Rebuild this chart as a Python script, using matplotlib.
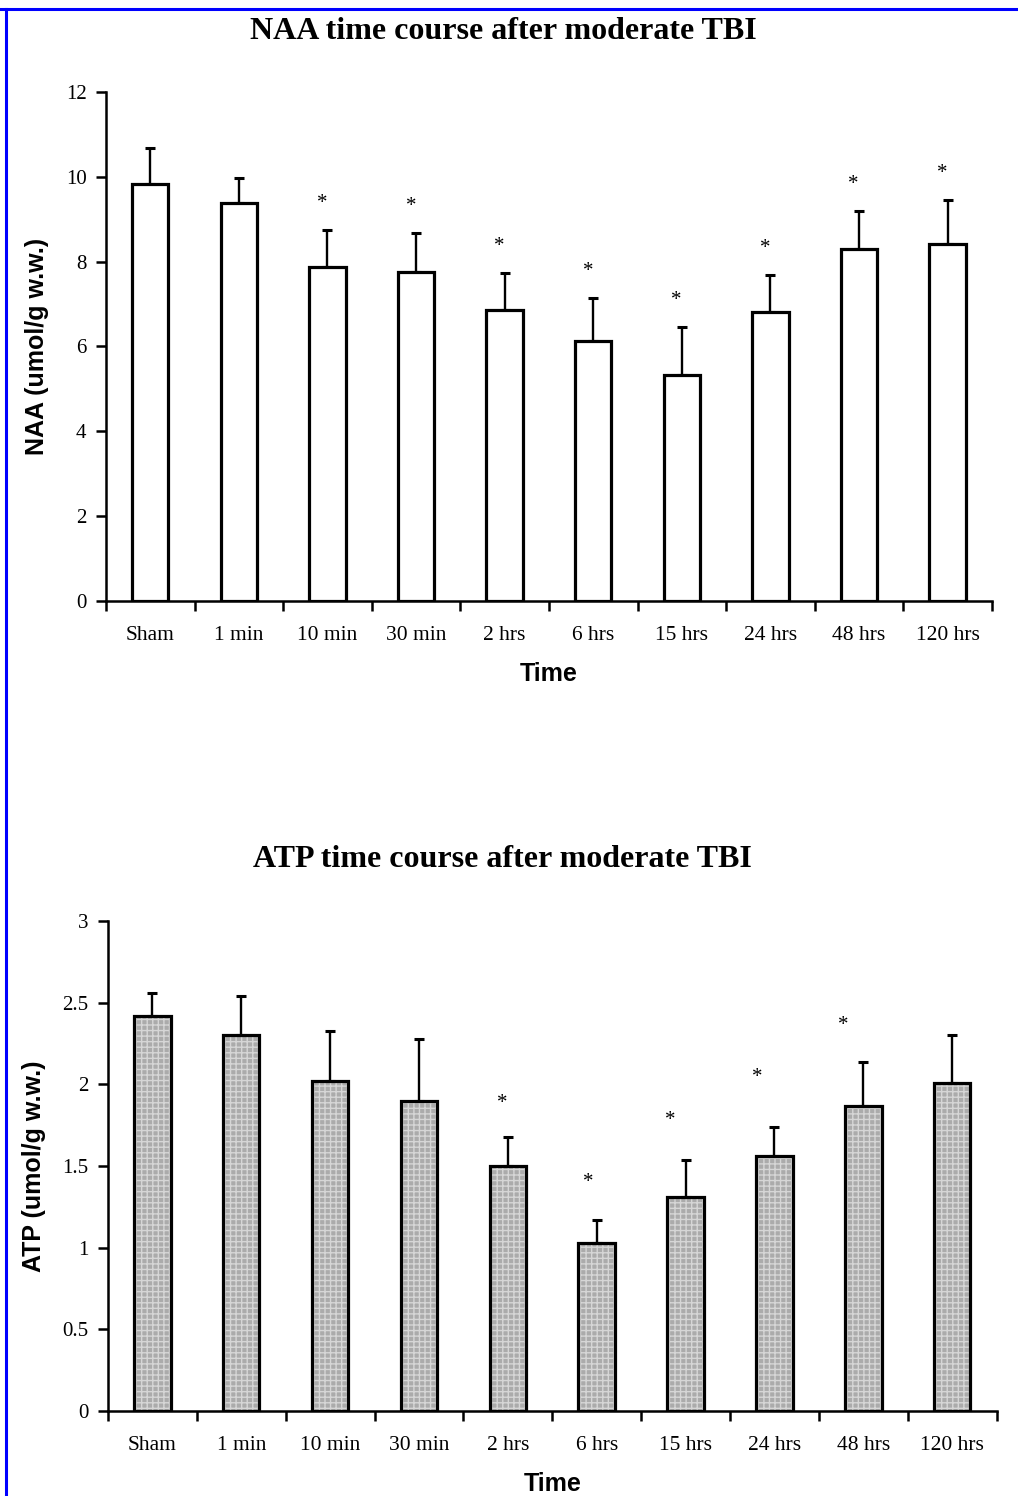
import matplotlib
matplotlib.use("Agg")
import matplotlib.pyplot as plt
from matplotlib.lines import Line2D
from matplotlib.ticker import FixedLocator, FuncFormatter

categories = ["Sham", "1 min", "10 min", "30 min", "2 hrs", "6 hrs",
              "15 hrs", "24 hrs", "48 hrs", "120 hrs"]

naa_mean = [9.83, 9.39, 7.88, 7.76, 6.86, 6.13, 5.33, 6.82, 8.30, 8.42]
naa_err = [0.85, 0.59, 0.87, 0.92, 0.88, 1.02, 1.13, 0.87, 0.90, 1.04]
naa_star = [False, False, True, True, True, True, True, True, True, True]

atp_mean = [2.42, 2.30, 2.02, 1.90, 1.50, 1.03, 1.31, 1.56, 1.87, 2.01]
atp_err = [0.14, 0.24, 0.31, 0.38, 0.18, 0.14, 0.23, 0.18, 0.27, 0.29]
atp_star = [False, False, False, False, True, True, True, True, True, False]
atp_star_y = [None, None, None, None, 1.88, 1.40, 1.78, 2.04, 2.36, None]

fig = plt.figure(figsize=(10.18, 14.96), dpi=100)

serif = "Liberation Serif"
sans = "Liberation Sans"


def panel(ax, means, errs, stars, ymax, ystep, ylabel, gray, star_y=None,
          star_dx=None):
    x = list(range(len(categories)))
    if gray:
        ax.bar(x, means, width=0.41, color="#ababab", edgecolor="#d6d6d6",
               linewidth=0, hatch="+++", zorder=2)
        ax.bar(x, means, width=0.41, fill=False, edgecolor="black",
               linewidth=2.3, zorder=3)
    else:
        ax.bar(x, means, width=0.41, color="white", edgecolor="black",
               linewidth=2.3, zorder=3)
    ax.errorbar(x, means, yerr=[[0] * len(errs), errs], fmt="none",
                ecolor="black", elinewidth=1.7, capsize=3.6, capthick=2.2,
                zorder=2)
    for i, s in enumerate(stars):
        if s:
            if star_y is not None:
                yy = star_y[i]
            else:
                yy = means[i] + errs[i] + 0.62
            dx = star_dx[i] if star_dx is not None else -0.06
            ax.text(i + dx, yy, "*", ha="center", va="center",
                    fontsize=15, fontfamily=serif)
    ax.set_xlim(-0.5, len(categories) - 0.5)
    ax.set_ylim(0, ymax)
    ax.spines["top"].set_visible(False)
    ax.spines["right"].set_visible(False)
    ax.spines["left"].set_linewidth(1.8)
    ax.spines["bottom"].set_linewidth(1.8)
    ax.set_xticks(x)
    ax.set_xticklabels(categories, fontfamily=serif, fontsize=15.5)
    ax.tick_params(axis="x", which="major", length=0, pad=18)
    ax.xaxis.set_minor_locator(FixedLocator([i + 0.5 for i in range(-1, len(categories))]))
    ax.tick_params(axis="x", which="minor", length=7, width=1.8, direction="out")
    yt = []
    v = 0.0
    while v <= ymax + 1e-9:
        yt.append(v)
        v += ystep
    ax.set_yticks(yt)
    ax.yaxis.set_major_formatter(FuncFormatter(lambda val, pos: f"{val:g}"))
    ax.tick_params(axis="y", length=7, width=1.8, direction="out", pad=7)
    for lab in ax.get_yticklabels():
        lab.set_fontfamily(serif)
        lab.set_fontsize(15)
    ax.set_ylabel(ylabel, fontfamily=sans, fontweight="bold", fontsize=18,
                  labelpad=12)
    ax.set_xlabel("Time", fontfamily=sans, fontweight="bold", fontsize=18,
                  labelpad=12)


ax1 = fig.add_axes([0.1041, 0.5983, 0.8703, 0.3402])
panel(ax1, naa_mean, naa_err, naa_star, 12, 2, "NAA (umol/g w.w.)", gray=False)

star_dx = [0, 0, 0, 0, -0.06, -0.09, -0.17, -0.19, -0.23, 0]
ax2 = fig.add_axes([0.106, 0.0568, 0.873, 0.3275])
panel(ax2, atp_mean, atp_err, atp_star, 3, 0.5, "ATP (umol/g w.w.)",
      gray=True, star_y=atp_star_y, star_dx=star_dx)

fig.text(0.494, 0.979, "NAA time course after moderate TBI", ha="center",
         va="center", fontfamily=serif, fontweight="bold", fontsize=23)
fig.text(0.494, 0.4255, "ATP time course after moderate TBI", ha="center",
         va="center", fontfamily=serif, fontweight="bold", fontsize=23)

# blue frame lines (top and left)
fig.add_artist(Line2D([0.0, 1.0], [1 - 8.5 / 1496, 1 - 8.5 / 1496],
                      transform=fig.transFigure, color="#0000ff", linewidth=2.2))
fig.add_artist(Line2D([5.5 / 1018, 5.5 / 1018], [0.0, 1 - 8.5 / 1496],
                      transform=fig.transFigure, color="#0000ff", linewidth=2.2))

fig.savefig("out.png", dpi=100, facecolor="white")
